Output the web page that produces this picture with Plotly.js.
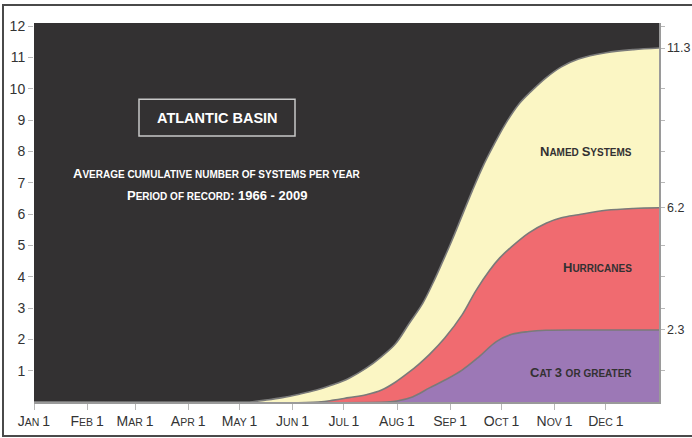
<!DOCTYPE html>
<html>
<head>
<meta charset="utf-8">
<script src="https://cdn.plot.ly/plotly-3.0.1.min.js"></script>
<style>html,body{margin:0;padding:0;background:#fff;}#chart{width:692px;height:438px;}</style>
</head>
<body>
<div id="chart"></div>
<script>
// Day-of-year positions and month labels
const monthDays = [0, 31, 59, 90, 120, 151, 181, 212, 243, 273, 304, 334];
const monthLabels = ["Jan 1", "Feb 1", "Mar 1", "Apr 1", "May 1", "Jun 1", "Jul 1", "Aug 1", "Sep 1", "Oct 1", "Nov 1", "Dec 1"];

// Named systems (cumulative average)
const namedDays   = [0, 120, 126, 135, 145, 155, 165, 174, 184, 194, 203, 211, 219, 227, 233, 238, 244, 250, 256, 262, 268, 275, 283, 290, 299, 308, 318, 334, 350, 365];
const namedValues = [0, 0, 0, 0.06, 0.14, 0.25, 0.38, 0.54, 0.76, 1.08, 1.45, 1.85, 2.5, 3.15, 3.8, 4.4, 5.15, 5.95, 6.75, 7.5, 8.15, 8.85, 9.5, 9.9, 10.35, 10.7, 10.95, 11.15, 11.25, 11.3];

// Hurricanes
const hurrDays   = [0, 166, 175, 184, 194, 203, 211, 219, 225, 231, 240, 250, 258, 266, 272, 279, 289, 299, 308, 318, 334, 350, 365];
const hurrValues = [0, 0, 0.06, 0.14, 0.23, 0.38, 0.63, 0.95, 1.22, 1.52, 2.05, 2.78, 3.55, 4.2, 4.6, 4.96, 5.4, 5.71, 5.88, 5.98, 6.12, 6.18, 6.2];

// Category 3 or greater
const cat3Days   = [0, 206, 212, 221, 231, 240, 250, 260, 270, 279, 289, 299, 318, 334, 365];
const cat3Values = [0, 0, 0.03, 0.16, 0.45, 0.7, 1.02, 1.45, 1.93, 2.16, 2.25, 2.29, 2.3, 2.3, 2.3];

// Axis tick values and labels
const leftTickVals = [1, 2, 3, 4, 5, 6, 7, 8, 9, 10, 11, 12];
const rightTickVals = [1, 2.3, 3, 4, 5, 6.2, 7, 8, 9, 10, 11.3, 12];
const rightTickText = ["", "2.3", "", "", "", "6.2", "", "", "", "", "11.3", ""];

function smallCaps(str, small) {
  let out = "";
  let inSmall = false;
  for (const ch of str) {
    const isLower = ch >= "a" && ch <= "z";
    if (isLower && !inSmall) { out += '<span style="font-size:' + small + 'px">'; inSmall = true; }
    if (!isLower && inSmall && ch !== " ") { out += "</span>"; inSmall = false; }
    out += isLower ? ch.toUpperCase() : ch;
  }
  if (inSmall) out += "</span>";
  return out;
}

const FONT = "Liberation Sans, Arial, sans-serif";
const lineStyle = {color: "#7a7a7a", width: 1.6, shape: "spline", smoothing: 1};

const traces = [
  {x: namedDays, y: namedValues, type: "scatter", mode: "lines", fill: "tozeroy",
   fillcolor: "#fbf6c4", line: lineStyle, hoverinfo: "skip", showlegend: false},
  {x: hurrDays, y: hurrValues, type: "scatter", mode: "lines", fill: "tozeroy",
   fillcolor: "#f06b70", line: lineStyle, hoverinfo: "skip", showlegend: false},
  {x: cat3Days, y: cat3Values, type: "scatter", mode: "lines", fill: "tozeroy",
   fillcolor: "#9c78b6", line: lineStyle, hoverinfo: "skip", showlegend: false},
  {x: [0], y: [0], type: "scatter", mode: "markers", marker: {opacity: 0},
   yaxis: "y2", hoverinfo: "skip", showlegend: false}
];

function note(x, y, text, size, color, xanchor) {
  return {xref: "paper", yref: "paper", x: x, y: y, xanchor: xanchor, yanchor: "middle",
          showarrow: false, text: text, font: {family: FONT, size: size, color: color}};
}

const layout = {
  width: 692, height: 438,
  margin: {l: 34, r: 33, t: 23, b: 36, pad: 0},
  paper_bgcolor: "#ffffff",
  plot_bgcolor: "#333132",
  showlegend: false,
  font: {family: FONT, color: "#333", size: 14},
  xaxis: {
    range: [0, 365], fixedrange: true,
    tickvals: monthDays,
    ticktext: monthLabels.map(s => smallCaps(s, 10.5)),
    ticks: "outside", ticklen: 6, tickcolor: "#b8b8b8", tickwidth: 1,
    showline: true, linecolor: "#9a9a9a", linewidth: 1.5,
    showgrid: false, zeroline: false,
    tickfont: {family: FONT, size: 14, color: "#333"}
  },
  yaxis: {
    range: [0, 12.1], fixedrange: true,
    tickvals: leftTickVals,
    ticks: "outside", ticklen: 5, tickcolor: "#b8b8b8",
    showline: false, showgrid: false, zeroline: false,
    tickfont: {family: FONT, size: 14, color: "#333"}
  },
  yaxis2: {
    range: [0, 12.1], overlaying: "y", side: "right", fixedrange: true,
    tickvals: rightTickVals, ticktext: rightTickText,
    ticks: "outside", ticklen: 4, tickcolor: "#b8b8b8",
    showline: true, linecolor: "#9a9a9a", linewidth: 1.5,
    showgrid: false, zeroline: false,
    tickfont: {family: FONT, size: 12.5, color: "#333"}
  },
  shapes: [
    {type: "rect", xref: "paper", yref: "paper",
     x0: -0.0496, x1: 1.08, y0: -0.0897, y1: 1.0475,
     line: {color: "#4a4a4a", width: 2}, fillcolor: "rgba(0,0,0,0)", layer: "above"},
    {type: "rect", xref: "paper", yref: "paper",
     x0: 0.168, x1: 0.4176, y0: 0.702, y1: 0.799,
     line: {color: "#c8c8c8", width: 1.5}, fillcolor: "rgba(0,0,0,0)", layer: "above"}
  ],
  annotations: [
    note(0.2928, 0.749, "<b>ATLANTIC BASIN</b>", 14.5, "#ffffff", "center"),
    note(0.2928, 0.604, "<b>" + smallCaps("Average cumulative number of systems per year", 10) + "</b>", 13, "#ffffff", "center"),
    note(0.2928, 0.546, "<b>" + smallCaps("Period of record: 1966 - 2009", 10) + "</b>", 13, "#ffffff", "center"),
    note(0.960, 0.66, "<b>" + smallCaps("Named Systems", 10) + "</b>", 13, "#333132", "right"),
    note(0.960, 0.354, "<b>" + smallCaps("Hurricanes", 10) + "</b>", 13, "#333132", "right"),
    note(0.960, 0.079, "<b>" + smallCaps("Cat 3 or greater", 10) + "</b>", 13, "#333132", "right")
  ]
};

Plotly.newPlot("chart", traces, layout, {displayModeBar: false, staticPlot: true});
</script>
</body>
</html>
